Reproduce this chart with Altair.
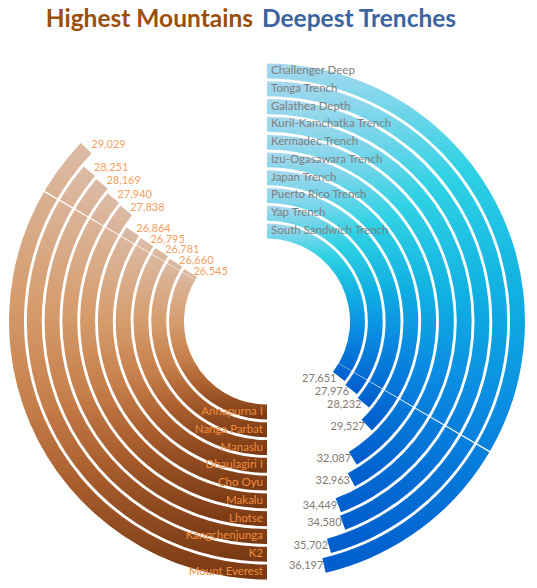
import math
import altair as alt
import pandas as pd

# ---------------- data ----------------
mountains = ["Mount Everest", "K2", "Kangchenjunga", "Lhotse", "Makalu",
             "Cho Oyu", "Dhaulagiri I", "Manaslu", "Nanga Parbat", "Annapurna I"]
heights = [29029, 28251, 28169, 27940, 27838, 26864, 26795, 26781, 26660, 26545]

trenches = ["Challenger Deep", "Tonga Trench", "Galathea Depth", "Kuril-Kamchatka Trench",
            "Kermadec Trench", "Izu-Ogasawara  Trench", "Japan Trench", "Puerto Rico Trench",
            "Yap Trench", "South Sandwich Trench"]
depths = [36197, 35702, 34580, 34449, 32963, 32087, 29527, 28232, 27976, 27651]

# ---------------- layout constants ----------------
HALF = 39050.0              # feet that fill half a turn
CX, CY = 259, 313.5         # centre of the rings (chart coordinates)
HW = 0.42                   # half band width, in ring units
DEG = HALF / 180            # feet per degree

mdf = pd.DataFrame({"name": mountains, "value": heights})
mdf["k"] = 9 - mdf.index
mdf["start"] = HALF
mdf["end"] = HALF + mdf["value"]
mdf["lab"] = mdf["end"] + 1.0 * DEG
mdf["ri"] = mdf["k"] - HW
mdf["ro"] = mdf["k"] + HW

tdf = pd.DataFrame({"name": trenches, "value": depths})
tdf["k"] = 9 - tdf.index
tdf["start"] = 0.0
tdf["end"] = tdf["value"]
tdf["lab"] = tdf["end"] + 2.4 * DEG * (0.74 ** tdf["k"])
tdf["ri"] = tdf["k"] - HW
tdf["ro"] = tdf["k"] + HW

line_deg = [120.3, 300.3]
ldf = pd.DataFrame({"deg": line_deg})
ldf["start"] = ldf["deg"] * DEG - 30
ldf["end"] = ldf["deg"] * DEG + 30
ldf["ri"] = -0.5
ldf["ro"] = 9.5

TS = alt.Scale(domain=[0, 2 * HALF], range=[0, 2 * math.pi])
RS = alt.Scale(type="linear", domain=[0, 9], range=[90.5, 250.5], zero=False)

brown = alt.LinearGradient(
    gradient="linear", x1=0, y1=0, x2=0, y2=1,
    stops=[alt.GradientStop(offset=0, color="#DCBBA6"),
           alt.GradientStop(offset=0.36, color="#D59C6C"),
           alt.GradientStop(offset=0.6, color="#C67E4B"),
           alt.GradientStop(offset=0.78, color="#AA5E2E"),
           alt.GradientStop(offset=1, color="#773812")])
blue = alt.LinearGradient(
    gradient="linear", x1=0, y1=0, x2=0, y2=1,
    stops=[alt.GradientStop(offset=0, color="#A8D8EE"),
           alt.GradientStop(offset=0.2, color="#30D2E4"),
           alt.GradientStop(offset=0.45, color="#10B0E2"),
           alt.GradientStop(offset=0.68, color="#0A8CE2"),
           alt.GradientStop(offset=1, color="#005CCC")])


def arcs(df, fill):
    return alt.Chart(df).mark_arc(fill=fill, strokeWidth=0).encode(
        theta=alt.Theta("start:Q", scale=TS, stack=None),
        theta2="end:Q",
        radius=alt.Radius("ro:Q", scale=RS),
        radius2="ri:Q",
        x=alt.value(CX), y=alt.value(CY))


m_arcs = arcs(mdf, brown)
t_arcs = arcs(tdf, blue)
divider = arcs(ldf, "white")

FONT = "Lato"
FS = 11.5

m_names = alt.Chart(mdf).mark_text(
    align="right", baseline="middle", dx=-4, font=FONT, fontSize=FS, color="#F08C3C"
).encode(
    theta=alt.Theta("start:Q", scale=TS, stack=None),
    radius=alt.Radius("k:Q", scale=RS),
    text="name:N", x=alt.value(CX), y=alt.value(CY))

t_names = alt.Chart(tdf).mark_text(
    align="left", baseline="middle", dx=4, font=FONT, fontSize=FS, color="#7F7F7F"
).encode(
    theta=alt.Theta("start:Q", scale=TS, stack=None),
    radius=alt.Radius("k:Q", scale=RS),
    text="name:N", x=alt.value(CX), y=alt.value(CY))

m_vals = alt.Chart(mdf).mark_text(
    align="left", baseline="middle", dx=2, font=FONT, fontSize=11, color="#F4A062"
).encode(
    theta=alt.Theta("lab:Q", scale=TS, stack=None),
    radius=alt.Radius("k:Q", scale=RS),
    text=alt.Text("value:Q", format=","), x=alt.value(CX), y=alt.value(CY))

t_vals = alt.Chart(tdf).mark_text(
    align="right", baseline="middle", dx=0, font=FONT, fontSize=11, color="#857A74"
).encode(
    theta=alt.Theta("lab:Q", scale=TS, stack=None),
    radius=alt.Radius("k:Q", scale=RS),
    text=alt.Text("value:Q", format=","), x=alt.value(CX), y=alt.value(CY))

title_left = alt.Chart(pd.DataFrame({"t": ["Highest Mountains"]})).mark_text(
    align="right", baseline="alphabetic", font=FONT, fontSize=24.5, fontWeight="bold",
    color="#9C4E0C"
).encode(text="t:N", x=alt.value(245), y=alt.value(19))

title_right = alt.Chart(pd.DataFrame({"t": ["Deepest Trenches"]})).mark_text(
    align="left", baseline="alphabetic", font=FONT, fontSize=24.5, fontWeight="bold",
    color="#3C64A0"
).encode(text="t:N", x=alt.value(254), y=alt.value(19))

chart = alt.layer(
    m_arcs, t_arcs, divider, m_names, t_names, m_vals, t_vals, title_left, title_right
).properties(
    width=521, height=572, autosize="none", padding=0
).configure_view(stroke=None)

chart.save("out.html", embed_options={"renderer": "svg", "actions": False})
